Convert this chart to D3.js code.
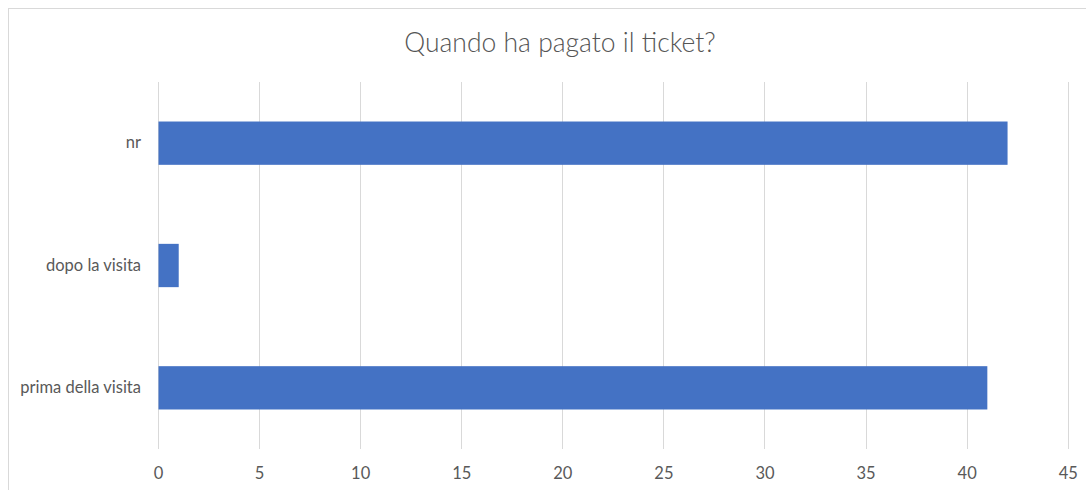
<!DOCTYPE html>
<html>
<head>
<meta charset="utf-8">
<script src="https://cdn.jsdelivr.net/npm/d3@7"></script>
<style>
  html, body { margin: 0; padding: 0; background: #fff; }
  svg { display: block; }
  text { font-family: Lato, "Open Sans", sans-serif; fill: #595959; }
</style>
</head>
<body>
<svg id="chart" width="1086" height="490"></svg>
<script>
// Survey answers: when the ticket was paid
const categories = ["prima della visita", "dopo la visita", "nr"];
const counts = [41, 1, 42];
const xTicks = [0, 5, 10, 15, 20, 25, 30, 35, 40, 45];
const title = "Quando ha pagato il ticket?";

const W = 1086, H = 490;
const plot = { left: 158, right: 1067.7, top: 82, bottom: 449 };

const svg = d3.select("#chart");

// chart area frame (continues past the window edge on the right and bottom)
svg.append("rect")
  .attr("x", 8.5).attr("y", 8.5)
  .attr("width", 1110).attr("height", 520)
  .attr("fill", "#fff")
  .attr("stroke", "#d9d9d9").attr("stroke-width", 1);

const x = d3.scaleLinear().domain([0, 45]).range([plot.left, plot.right]);
const y = d3.scaleBand()
  .domain(categories.slice().reverse())
  .range([plot.top, plot.bottom])
  .paddingInner(0.646)
  .paddingOuter(0.323);

// vertical gridlines
svg.append("g")
  .selectAll("line")
  .data(xTicks)
  .join("line")
  .attr("x1", d => Math.round(x(d)) + 0.5)
  .attr("x2", d => Math.round(x(d)) + 0.5)
  .attr("y1", plot.top)
  .attr("y2", plot.bottom)
  .attr("stroke", "#d9d9d9")
  .attr("stroke-width", 1);

// bars
svg.append("g")
  .selectAll("rect")
  .data(categories.map((c, i) => ({ c, v: counts[i] })))
  .join("rect")
  .attr("x", x(0) + 0.5)
  .attr("y", d => y(d.c))
  .attr("width", d => x(d.v) - x(0))
  .attr("height", y.bandwidth())
  .attr("fill", "#4472c4");

// x axis tick labels
const xAxis = d3.axisBottom(x).tickValues(xTicks).tickSize(0).tickPadding(0);
const gx = svg.append("g")
  .attr("transform", `translate(0, ${plot.bottom + 24})`)
  .call(xAxis);
gx.select(".domain").remove();
gx.selectAll("text")
  .attr("dy", "0.35em")
  .style("font-family", "Lato, 'Open Sans', sans-serif")
  .style("font-size", "16.5px")
  .attr("fill", "#595959");

// category labels
const yAxis = d3.axisLeft(y).tickSize(0).tickPadding(17);
const gy = svg.append("g")
  .attr("transform", `translate(${plot.left}, 0)`)
  .call(yAxis);
gy.select(".domain").remove();
gy.selectAll("text")
  .style("font-family", "Lato, 'Open Sans', sans-serif")
  .style("font-size", "16.5px")
  .attr("fill", "#595959");

// title
svg.append("text")
  .attr("x", 560)
  .attr("y", 52)
  .attr("text-anchor", "middle")
  .style("font-size", "26.5px")
  .style("font-weight", 300)
  .style("fill", "#555")
  .text(title);
</script>
</body>
</html>
